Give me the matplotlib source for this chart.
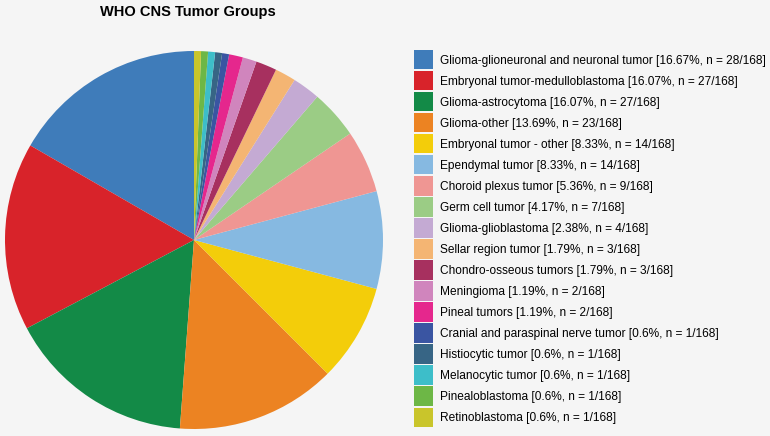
import matplotlib
matplotlib.use("Agg")
from matplotlib import pyplot as plt
from matplotlib.patches import Patch

groups = ["Glioma-glioneuronal and neuronal tumor", "Embryonal tumor-medulloblastoma",
          "Glioma-astrocytoma", "Glioma-other", "Embryonal tumor - other", "Ependymal tumor",
          "Choroid plexus tumor", "Germ cell tumor", "Glioma-glioblastoma", "Sellar region tumor",
          "Chondro-osseous tumors", "Meningioma", "Pineal tumors",
          "Cranial and paraspinal nerve tumor", "Histiocytic tumor", "Melanocytic tumor",
          "Pinealoblastoma", "Retinoblastoma"]
counts = [28, 27, 27, 23, 14, 14, 9, 7, 4, 3, 3, 2, 2, 1, 1, 1, 1, 1]
pcts = ["16.67", "16.07", "16.07", "13.69", "8.33", "8.33", "5.36", "4.17", "2.38",
        "1.79", "1.79", "1.19", "1.19", "0.6", "0.6", "0.6", "0.6", "0.6"]
colors = ["#3f7cba", "#d8232a", "#138a47", "#ec8322", "#f3cd0a", "#86b9e1", "#ef9693",
          "#9bcc85", "#c4aad3", "#f4b573", "#a7305f", "#d085bd", "#e5278d", "#3a55a2",
          "#376585", "#3dbec9", "#6db746", "#c9c52b"]
total = 168
bg = "#f5f5f5"

fig = plt.figure(figsize=(7.7, 4.36), dpi=100, facecolor=bg)
ax = fig.add_axes([5 / 770, 7 / 436, 378 / 770, 378 / 436])
ax.set_facecolor(bg)
ax.pie(counts, colors=colors, startangle=90, counterclock=True,
       wedgeprops=dict(linewidth=0))
ax.set_xlim(-1, 1)
ax.set_ylim(-1, 1)
ax.set_aspect("equal")
fig.text(0.244, 0.972, "WHO CNS Tumor Groups", ha="center", va="center",
         fontsize=10.5, fontweight="bold", family="Liberation Sans")

handles = [Patch(facecolor=c, edgecolor="none") for c in colors]
labels = [f"{g} [{p}%, n = {n}/{total}]" for g, p, n in zip(groups, pcts, counts)]
fig.legend(handles, labels, loc="upper left", bbox_to_anchor=(0.538, 0.885),
           frameon=False, prop={"family": "Liberation Sans", "size": 8.6},
           handlelength=1.6, handleheight=2.1, handletextpad=0.55,
           labelspacing=0.15, borderaxespad=0, borderpad=0)

fig.savefig("out.png", dpi=100, facecolor=bg)
